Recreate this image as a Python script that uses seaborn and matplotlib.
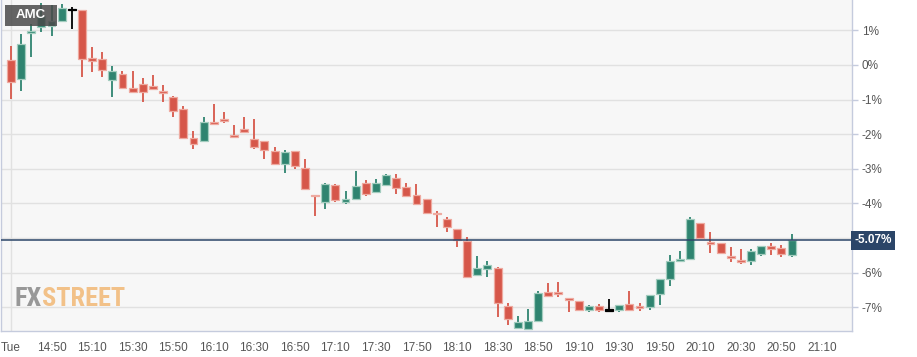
import numpy as np
import pandas as pd
import matplotlib
matplotlib.use("Agg")
import matplotlib.pyplot as plt
from matplotlib.patches import Rectangle
import seaborn as sns

# 5-minute candles (% change), 14:30 -> 20:55
opens = [0.14, -0.40, 0.93, 1.11, 1.14, 1.26, 1.58, 1.58, 0.19, 0.17,
         -0.44, -0.26, -0.67, -0.55, -0.60, -0.78, -0.92, -1.28, -2.10, -2.20,
         -1.66, -1.57, -2.01, -1.86, -2.15, -2.20, -2.48, -2.86, -2.48, -2.98,
         -3.76, -3.97, -3.47, -3.97, -3.87, -3.40, -3.66, -3.46, -3.26, -3.54,
         -3.76, -3.88, -4.27, -4.44, -4.75, -5.09, -6.07, -5.89, -5.86, -6.96,
         -7.60, -7.63, -7.39, -6.55, -6.59, -6.76, -6.81, -7.07, -6.98, -7.10,
         -7.07, -6.90, -7.00, -6.99, -6.62, -6.19, -5.67, -5.61, -4.58, -5.14,
         -5.14, -5.53, -5.64, -5.67, -5.47, -5.22, -5.29, -5.50]
highs = [0.55, 0.90, 1.18, 1.80, 1.72, 1.75, 1.68, 1.58, 0.53, 0.37,
         -0.02, -0.17, -0.17, -0.37, -0.28, -0.58, -0.90, -1.18, -1.92, -1.50,
         -1.13, -1.37, -1.74, -1.51, -1.57, -2.20, -2.38, -2.46, -2.48, -2.72,
         -3.76, -3.42, -3.44, -3.65, -3.06, -3.32, -3.29, -3.16, -3.16, -3.42,
         -3.44, -3.88, -4.23, -4.40, -4.75, -4.98, -5.53, -5.67, -5.83, -6.88,
         -7.26, -7.06, -6.54, -6.31, -6.27, -6.76, -6.81, -6.93, -6.90, -6.77,
         -6.94, -6.54, -6.89, -6.66, -6.18, -5.50, -5.38, -4.39, -4.58, -4.83,
         -5.14, -5.27, -5.32, -5.31, -5.24, -5.15, -5.21, -4.88]
lows = [-0.97, -0.74, 0.22, 0.95, 0.84, 1.26, 1.03, -0.36, -0.21, -0.36,
        -0.92, -0.68, -0.77, -1.07, -0.70, -1.08, -1.49, -2.12, -2.42, -2.21,
        -1.70, -1.68, -2.08, -1.94, -2.42, -2.72, -2.87, -3.13, -3.01, -3.58,
        -4.36, -4.17, -3.95, -4.01, -3.87, -3.80, -3.66, -3.46, -3.73, -3.78,
        -4.02, -4.32, -4.69, -4.83, -5.27, -6.12, -6.07, -6.13, -7.29, -7.52,
        -7.60, -7.67, -7.39, -6.67, -6.70, -7.13, -7.08, -7.13, -7.15, -7.14,
        -7.14, -7.07, -7.11, -7.08, -6.95, -6.39, -5.67, -5.61, -5.03, -5.44,
        -5.42, -5.70, -5.76, -5.79, -5.53, -5.49, -5.54, -5.55]
closes = [-0.49, 0.60, 0.97, 1.42, 1.26, 1.65, 1.58, 0.17, 0.12, -0.14,
          -0.18, -0.66, -0.77, -0.77, -0.70, -0.81, -1.34, -2.11, -2.27, -1.66,
          -1.70, -1.63, -2.08, -1.94, -2.37, -2.46, -2.87, -2.52, -2.91, -3.58,
          -3.80, -3.45, -3.91, -3.86, -3.50, -3.73, -3.42, -3.18, -3.56, -3.78,
          -4.02, -4.28, -4.32, -4.67, -5.07, -6.12, -5.86, -5.79, -6.87, -7.35,
          -7.43, -7.39, -6.59, -6.67, -6.62, -6.78, -7.08, -6.98, -7.08, -7.10,
          -6.94, -7.07, -7.03, -6.66, -6.18, -5.67, -5.62, -4.44, -4.99, -5.18,
          -5.42, -5.59, -5.69, -5.38, -5.24, -5.32, -5.45, -5.07]

tick_labels = ["Tue", "14:50", "15:10", "15:30", "15:50", "16:10", "16:30",
               "16:50", "17:10", "17:30", "17:50", "18:10", "18:30", "18:50",
               "19:10", "19:30", "19:50", "20:10", "20:30", "20:50", "21:10"]
y_ticks = [1, 0, -1, -2, -3, -4, -5, -6, -7]
last_price = -5.07
symbol = "AMC"

df = pd.DataFrame({"open": opens, "high": highs, "low": lows, "close": closes})
df["idx"] = np.arange(len(df))

UP, DOWN = "#2f8470", "#d6574a"
UP_EDGE, DOWN_EDGE = "#a3cdbf", "#eeaaa0"

def candle_colors(row):
    if row["close"] > row["open"]:
        return UP, UP_EDGE
    if row["close"] < row["open"]:
        return DOWN, DOWN_EDGE
    return "black", "black"

cols = df.apply(candle_colors, axis=1, result_type="expand")
df["color"], df["edge"] = cols[0], cols[1]

sns.set_theme(style="white")
plt.rcParams["font.family"] = ["Liberation Sans", "DejaVu Sans"]

fig = plt.figure(figsize=(9.17, 3.57), dpi=100)
ax = fig.add_axes([1 / 917, 26 / 357, 851 / 917, 331 / 357])
ax.set_facecolor("#f7f7f7")

# grid
for y in y_ticks:
    ax.axhline(y, color="#e1e1e1", lw=1, zorder=0)
ax.axvline(0, color="#e1e1e1", lw=1, zorder=0)

# wicks
ax.vlines(df["idx"], df["low"], df["high"], colors=df["color"], lw=1.3, zorder=2)

# bodies
body_bottom = df[["open", "close"]].min(axis=1)
body_h = (df["close"] - df["open"]).abs().clip(lower=0.05)
ax.bar(df["idx"], body_h, bottom=body_bottom, width=0.78, color=df["color"],
       edgecolor=df["edge"], linewidth=0.9, zorder=3)

# last price line
ax.axhline(last_price, color="#2b4568", lw=1.1, zorder=4)

ax.set_xlim(-0.985, 82.96)
ax.set_ylim(-7.688, 1.877)

ax.set_xticks(np.arange(0, 4 * len(tick_labels), 4))
ax.set_xticklabels(tick_labels, fontsize=8.5, color="#555555")
ax.yaxis.tick_right()
ax.set_yticks(y_ticks)
ax.set_yticklabels([("" if v == -5 else f"{v}%") for v in y_ticks],
                   fontsize=8.5, color="#555555")
ax.tick_params(axis="x", length=3, width=1, color="#c5cbdd", pad=5)
ax.tick_params(axis="y", length=4, width=1, color="#c5cbdd", pad=3)

for side in ["left", "right", "bottom"]:
    ax.spines[side].set_color("#c5cbdd")
    ax.spines[side].set_linewidth(1)
ax.spines["top"].set_visible(False)

# last price tag
ax.text(1.003, last_price, f"{last_price:.2f}%", transform=ax.get_yaxis_transform(),
        ha="left", va="center", fontsize=8.5, fontweight="bold", color="white",
        bbox=dict(boxstyle="square,pad=0.3", fc="#2b4568", ec="none"), zorder=6,
        clip_on=False)

# symbol tag
ax.add_patch(Rectangle((4 / 851, 1 - 26 / 331), 52 / 851, 21 / 331,
                       transform=ax.transAxes, fc="#4a4a4a", ec="none",
                       alpha=0.85, zorder=7))
ax.text(30 / 851, 1 - 15.5 / 331, symbol, transform=ax.transAxes,
        ha="center", va="center", fontsize=9.5, fontweight="bold",
        color="white", zorder=8)

# watermark
wm_font = ["Roboto Condensed", "Open Sans Condensed", "Liberation Sans Narrow",
           "Liberation Sans", "DejaVu Sans"]
fx = ax.text(0.016, 0.06, "FX", transform=ax.transAxes, ha="left", va="bottom",
             fontsize=19, fontweight="bold", color="#8e8e8e", alpha=0.9,
             family=wm_font, zorder=1)
ax.annotate("STREET", xy=(1, 0), xycoords=fx, ha="left", va="bottom",
            fontsize=19, fontweight="bold", color="#f2bb7c", alpha=0.9,
            family=wm_font, zorder=1)

fig.savefig("out.png", dpi=100, facecolor="white")
